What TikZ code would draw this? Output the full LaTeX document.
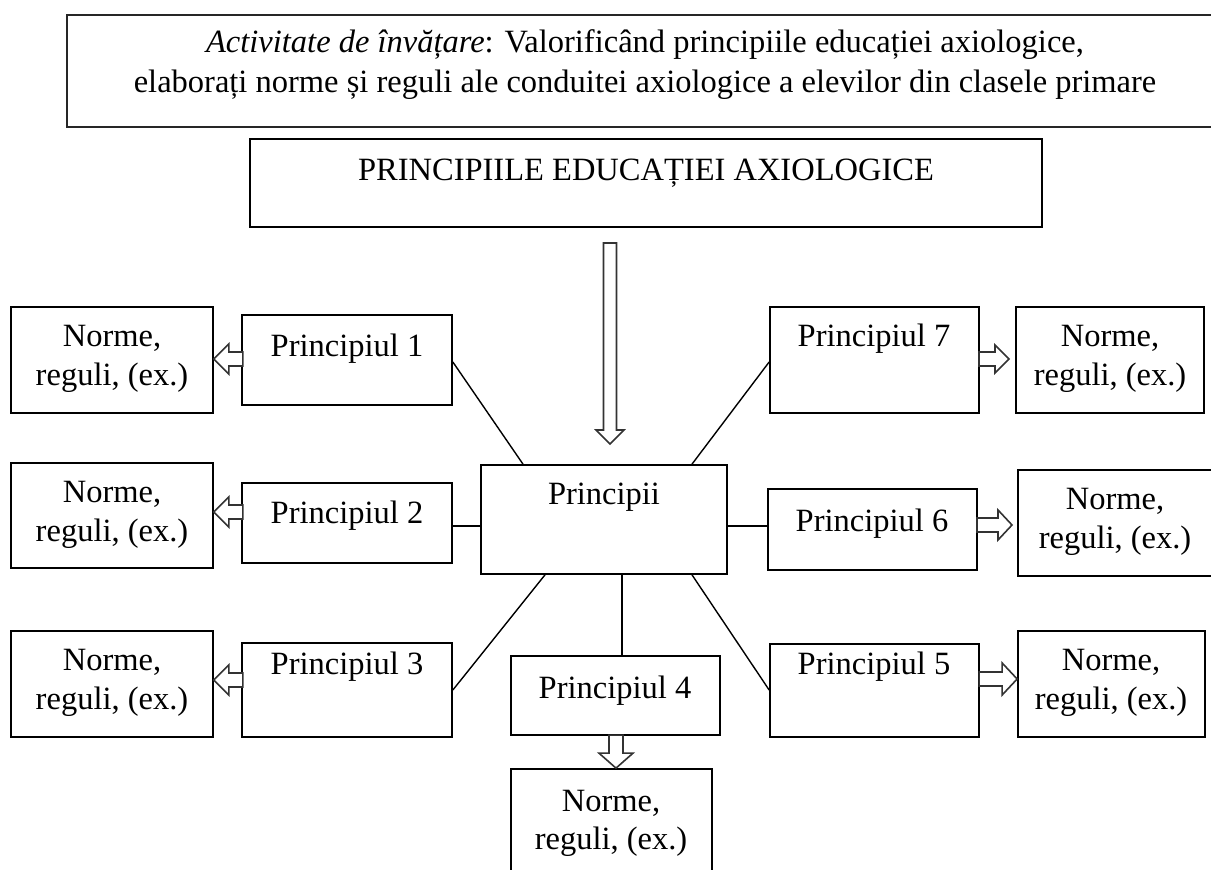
\documentclass[tikz,border=0pt]{standalone}
\usepackage{fontspec}
\setmainfont{Liberation Serif}
\usetikzlibrary{fit}
\newcommand\fatarrow[6]{% tip, angle, total length, head length, head half width, shaft half width
  \draw[fat, shift={(#1)}, rotate=#2] (0,0) -- (-#4,#5) -- (-#4,#6) -- (-#3,#6) -- (-#3,-#6) -- (-#4,-#6) -- (-#4,-#5) -- cycle;}
\begin{document}
\begin{tikzpicture}[x=0.5pt,y=-0.5pt,
  box/.style={draw, line width=0.85pt, inner sep=0pt},
  topbox/.style={draw=black!85, line width=1.1pt, inner sep=0pt},
  txt/.style={font=\fontsize{16.25pt}{19.5pt}\selectfont, inner sep=0pt, anchor=base},
  conn/.style={line width=0.7pt},
  fat/.style={draw=black!80, line width=0.8pt, fill=white, line join=miter}
]
\useasboundingbox (0,0) rectangle (1211,870);

% boxes
\node[topbox, fit={(67,15) (1223,127)}] (head) {};
\node[box, fit={(250,139) (1042,227)}] (title) {};
\node[box, fit={(11,307) (213,413)}] (n1) {};
\node[box, fit={(11,463) (213,568)}] (n2) {};
\node[box, fit={(11,631) (213,737)}] (n3) {};
\node[box, fit={(242,315) (452,405)}] (p1) {};
\node[box, fit={(242,483) (452,563)}] (p2) {};
\node[box, fit={(242,643) (452,737)}] (p3) {};
\node[box, fit={(481,465) (727,574)}] (c) {};
\node[box, fit={(511,656) (720,735)}] (p4) {};
\node[box, fit={(511,769) (712,876)}] (n4) {};
\node[box, fit={(770,307) (979,413)}] (p7) {};
\node[box, fit={(768,489) (977,570)}] (p6) {};
\node[box, fit={(770,644) (979,737)}] (p5) {};
\node[box, fit={(1016,307) (1204,413)}] (m7) {};
\node[box, fit={(1018,470) (1212,576)}] (m6) {};
\node[box, fit={(1018,631) (1205,737)}] (m5) {};

% texts
\node[txt] (h1) at (645,53) {\textit{Activitate de învățare}: Valorificând principiile educației axiologice,};
\node[txt] (h2) at (645,93) {elaborați norme și reguli ale conduitei axiologice a elevilor din clasele primare};
\node[txt] (tt) at (646,181) {PRINCIPIILE EDUCAȚIEI AXIOLOGICE};
\node[txt] (ct) at (604,505) {Principii};
\node[txt] (p1t) at (347,357) {Principiul 1};
\node[txt] (p2t) at (347,524) {Principiul 2};
\node[txt] (p3t) at (347,675) {Principiul 3};
\node[txt] (p4t) at (615,699) {Principiul 4};
\node[txt] (p5t) at (874,675) {Principiul 5};
\node[txt] (p6t) at (872,532) {Principiul 6};
\node[txt] (p7t) at (874,347) {Principiul 7};
\foreach \nm/\cx/\ty in {n1/112/307, n2/112/463, n3/112/631, m7/1110/307, m6/1115/470, m5/1111/631}{
  \node[txt] (\nm a) at (\cx,\ty+40) {Norme,};
  \node[txt] (\nm b) at (\cx,\ty+79) {reguli, (ex.)};
}
\node[txt] (n4a) at (611,812) {Norme,};
\node[txt] (n4b) at (611,850) {reguli, (ex.)};

% connectors
\draw[conn] (p1.east |- 0,362) -- (c.north -| 523,0);
\draw[conn] (p2.east |- 0,526) -- (c.west |- 0,526);
\draw[conn] (p3.east |- 0,690) -- (c.south -| 545,0);
\draw[conn] (c.south -| 622,0) -- (p4.north -| 622,0);
\draw[conn] (c.south -| 692,0) -- (p5.west |- 0,690);
\draw[conn] (c.east |- 0,526) -- (p6.west |- 0,526);
\draw[conn] (c.north -| 692,0) -- (p7.west |- 0,362);

% hollow arrows
\coordinate (tb) at (610,444);
\coordinate (t1) at (n1.east |- 0,359);
\coordinate (t2) at (n2.east |- 0,512);
\coordinate (t3) at (n3.east |- 0,680);
\coordinate (t7) at (1009,359);
\coordinate (t6) at (1012,525);
\coordinate (t5) at (m5.west |- 0,679);
\coordinate (t4) at (n4.north -| 616,0);
\fatarrow{tb}{-90}{201}{14}{14}{6.5}
\fatarrow{t1}{180}{29}{15}{15}{7}
\fatarrow{t2}{180}{29}{15}{15}{7}
\fatarrow{t3}{180}{29}{15}{15}{7}
\fatarrow{t7}{0}{30}{14}{14}{7}
\fatarrow{t6}{0}{35}{14}{15}{7}
\fatarrow{t5}{0}{38}{15}{16}{7}
\fatarrow{t4}{-90}{33}{15}{17}{7}
\end{tikzpicture}
\end{document}
